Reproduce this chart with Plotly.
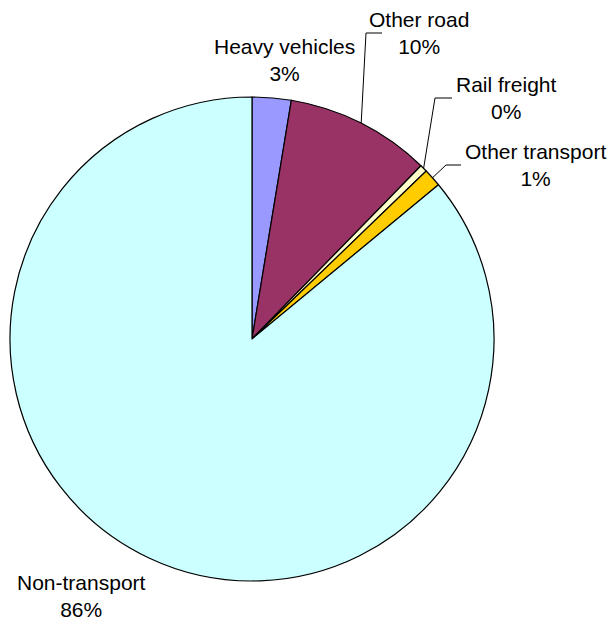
import math
import plotly.graph_objects as go

categories = ["Heavy vehicles", "Other road", "Rail freight", "Other transport", "Non-transport"]
values = [2.6, 9.7, 0.49, 1.21, 86.0]
colors = ["#9999FF", "#993366", "#FFFFCC", "#FFCC00", "#CCFFFF"]

W, H = 609, 621
cx, cy, r = 252, 339, 242

# label block centers (pixels) and whether a leader line is drawn
label_pos = {
    "Heavy vehicles": (284, 60, False),
    "Other road": (419, 33, True),
    "Rail freight": (506, 98, True),
    "Other transport": (535, 165, True),
    "Non-transport": (81, 596, False),
}
label_left = {"Other road": 382, "Rail freight": 452, "Other transport": 461}
elbow = {"Other road": 366, "Rail freight": 435, "Other transport": 446}

def px(x):
    return x / W

def py(y):
    return 1 - y / H

fig = go.Figure(go.Pie(
    labels=categories, values=values, sort=False, direction="clockwise", rotation=0,
    marker=dict(colors=colors, line=dict(color="black", width=1.2)),
    textinfo="none", hoverinfo="skip", showlegend=False,
    domain=dict(x=[px(cx - r), px(cx + r)], y=[py(cy + r), py(cy - r)]),
))

total = sum(values)
cum = 0.0
annotations = []
shapes = []
for cat, v in zip(categories, values):
    mid = (cum + v / 2) / total * 2 * math.pi
    cum += v
    lx, ly, leader = label_pos[cat]
    annotations.append(dict(
        x=px(lx), y=py(ly), xref="paper", yref="paper", xanchor="center", yanchor="middle",
        text=f"{cat}<br>{round(v / total * 100)}%", showarrow=False, align="center",
        font=dict(family="Liberation Sans, Arial, sans-serif", size=21, color="black"),
    ))
    if leader:
        sx = cx + r * math.sin(mid)
        sy = cy - r * math.cos(mid)
        ex = elbow[cat]
        path = f"M {px(sx)} {py(sy)} L {px(ex)} {py(ly)} L {px(label_left[cat])} {py(ly)}"
        shapes.append(dict(type="path", xref="paper", yref="paper", path=path,
                           line=dict(color="black", width=1)))

fig.update_layout(
    width=W, height=H, autosize=False,
    margin=dict(l=0, r=0, t=0, b=0),
    paper_bgcolor="white", plot_bgcolor="white",
    annotations=annotations, shapes=shapes,
)
fig.write_html("out.html", config={"displayModeBar": False},
               post_script="document.body.style.margin='0';document.body.style.padding='0';")
